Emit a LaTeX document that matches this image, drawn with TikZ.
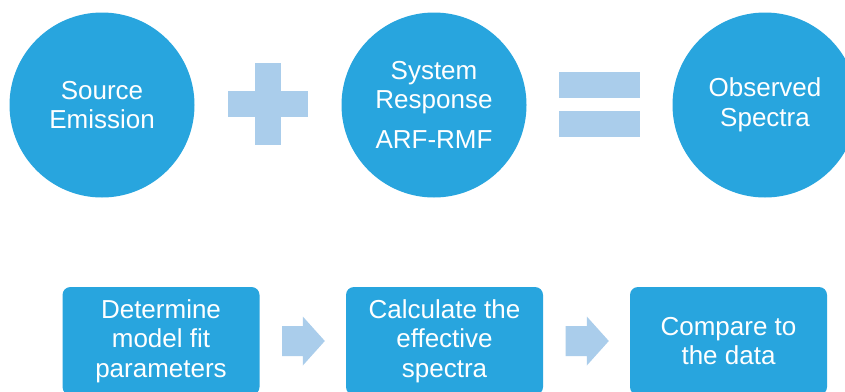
\documentclass[tikz,border=0pt]{standalone}
\usepackage{fontspec}
\setmainfont{Liberation Sans}
\usetikzlibrary{calc}
\definecolor{stageblue}{RGB}{40,165,222}
\definecolor{signpale}{RGB}{170,205,235}
\tikzset{
  labelfont/.style={font=\fontsize{26}{29.5}\selectfont},
  stage/.style={circle, fill=stageblue, minimum size=185pt, inner sep=0pt,
    text=white, align=center, labelfont},
  stepbox/.style={rectangle, rounded corners=8pt, fill=stageblue,
    minimum width=197pt, minimum height=108pt, inner sep=0pt,
    text=white, align=center, labelfont},
  sign/.style={fill=signpale},
}
% block arrow between two step boxes
\newcommand\flowarrow[2]{%
  \path ($(#1.east)+(22.5,0)$) coordinate (fa-s)
        ($(#2.west)+(-21,0)$) coordinate (fa-e);
  \fill[sign] ($(fa-s)+(0,-15)$) -- ($(fa-e)+(-22,-15)$) -- ($(fa-e)+(-22,-24.5)$)
    -- (fa-e) -- ($(fa-e)+(-22,24.5)$) -- ($(fa-e)+(-22,15)$) -- ($(fa-s)+(0,15)$) -- cycle;}
\begin{document}
\begin{tikzpicture}[x=1pt,y=-1pt]
  \useasboundingbox (0,0) rectangle (845,391);
  \fill[white] (0,0) rectangle (845,391);
  \clip (0,0) rectangle (845,391);

  % top row: source + response = observed
  \node[stage] (src) at (102,105) {Source\\Emission};
  \node[stage] (sys) at (434,105) {System\\Response\\[10.5pt]ARF-RMF};
  \node[stage] (obs) at (765,105) {Observed\\Spectra};

  % plus sign
  \fill[sign] (228,91) rectangle (308,117);
  \fill[sign] (255,63) rectangle (281,145);
  % equals sign
  \fill[sign] (559,72) rectangle (640,98);
  \fill[sign] (559,111) rectangle (640,137);

  % bottom row: fitting procedure
  \node[stepbox] (fit) at (161,341) {Determine\\model fit\\parameters};
  \node[stepbox] (calc) at (444.5,341) {Calculate the\\effective\\spectra};
  \node[stepbox] (cmp) at (728.5,341) {Compare to\\the data};

  \flowarrow{fit}{calc}
  \flowarrow{calc}{cmp}
\end{tikzpicture}
\end{document}
